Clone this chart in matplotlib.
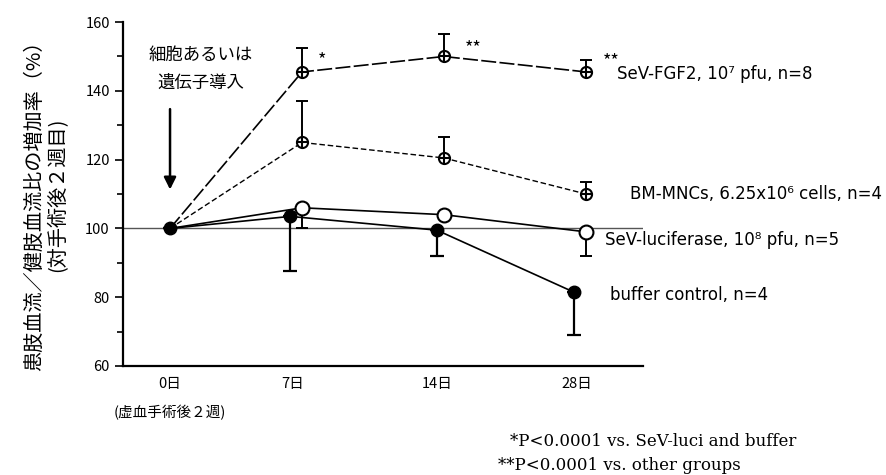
import numpy as np
import matplotlib.pyplot as plt
from matplotlib.ticker import MultipleLocator

plt.rcParams['font.family'] = ['Noto Sans CJK JP', 'DejaVu Sans']

# data
days = ['0日', '7日', '14日', '28日']
fgf2 = [100, 145.5, 150, 145.5]
fgf2_err = [0, 7, 6.5, 3.5]
bm = [100, 125, 120.5, 110]
bm_err = [0, 12, 6, 3.5]
luci = [100, 106, 104, 99]
luci_err = [0, 6, 0, 7]
buf = [100, 103.5, 99.5, 81.5]
buf_err = [0, 16, 7.5, 12.5]

labels = ['SeV-FGF2, 10⁷ pfu, n=8', 'BM-MNCs, 6.25x10⁶ cells, n=4',
          'SeV-luciferase, 10⁸ pfu, n=5', 'buffer control, n=4']

# layout
xt = np.array([0, 0.89, 1.93, 2.94])
x_open = np.array([0, 0.955, 1.98, 3.01])
x_dot = np.array([0, 0.87, 1.93, 2.92])

fig = plt.figure(figsize=(8.87, 4.75), dpi=100)
ax = fig.add_axes([0.1387, 0.2295, 0.586, 0.724])

ax.axhline(100, color='#555555', lw=1, zorder=1)

zero = [0, 0, 0, 0]
# SeV-FGF2
ax.errorbar(x_open, fgf2, yerr=[zero, fgf2_err], fmt='none', ecolor='black',
            elinewidth=1.4, capsize=4, capthick=1.4, zorder=2)
ax.plot(x_open, fgf2, color='black', lw=1.2, dashes=(9, 2), zorder=3)
ax.plot(x_open[1:], fgf2[1:], 'o', ms=8, mfc='white', mec='black', mew=1.5, zorder=4)
ax.plot(x_open[1:], fgf2[1:], '+', ms=8, mec='black', mew=1.5, zorder=5)
# BM-MNCs
ax.errorbar(x_open, bm, yerr=[zero, bm_err], fmt='none', ecolor='black',
            elinewidth=1.4, capsize=4, capthick=1.4, zorder=2)
ax.plot(x_open, bm, color='black', lw=1.0, dashes=(4, 2), zorder=3)
ax.plot(x_open[1:], bm[1:], 'o', ms=8, mfc='white', mec='black', mew=1.5, zorder=4)
ax.plot(x_open[1:], bm[1:], '+', ms=8, mec='black', mew=1.5, zorder=5)
# SeV-luciferase
ax.errorbar(x_open, luci, yerr=[luci_err, zero], fmt='none', ecolor='black',
            elinewidth=1.4, capsize=4, capthick=1.4, zorder=2)
ax.plot(x_open, luci, color='black', lw=1.2, zorder=3)
ax.plot(x_open[1:], luci[1:], 'o', ms=10, mfc='white', mec='black', mew=1.5, zorder=4)
# buffer
ax.errorbar(x_dot, buf, yerr=[buf_err, zero], fmt='none', ecolor='black',
            elinewidth=1.6, capsize=5, capthick=1.6, zorder=2)
ax.plot(x_dot, buf, color='black', lw=1.2, marker='o', ms=9, mfc='black',
        mec='black', zorder=6)

ax.set_xlim(-0.34, 3.42)
ax.set_ylim(60, 160)
ax.set_xticks(xt)
ax.set_xticklabels(days, fontsize=10.5)
ax.tick_params(axis='x', length=0, pad=8)
ax.yaxis.set_major_locator(MultipleLocator(20))
ax.yaxis.set_minor_locator(MultipleLocator(10))
ax.tick_params(axis='y', which='major', length=6, width=1.2, labelsize=10.5)
ax.tick_params(axis='y', which='minor', length=4, width=1.2)
for s in ['top', 'right']:
    ax.spines[s].set_visible(False)
ax.spines['left'].set_linewidth(1.6)
ax.spines['bottom'].set_linewidth(1.6)

ax.text(0, -0.135, '(虚血手術後２週)', transform=ax.get_xaxis_transform(),
        ha='center', va='center', fontsize=10.5)

# annotations
ax.text(0.22, 146.5, '細胞あるいは\n遺伝子導入', ha='center', va='center',
        fontsize=12.5, linespacing=1.7)
ax.annotate('', xy=(0, 110.5), xytext=(0, 135.5),
            arrowprops=dict(arrowstyle='-|>', color='black', lw=1.8, mutation_scale=18))
ax.text(1.10, 149, '*', fontsize=13, ha='center', va='center')
ax.text(2.19, 152.5, '**', fontsize=13, ha='center', va='center')
ax.text(3.19, 148.5, '**', fontsize=13, ha='center', va='center')

label_pos = [(3.23, 145), (3.33, 110), (3.15, 96.5), (3.18, 80.5)]
for (lx, ly), lab in zip(label_pos, labels):
    ax.text(lx, ly, lab, ha='left', va='center', fontsize=12,
            family=['DejaVu Sans'], clip_on=False)

fig.text(35 / 887, 1 - 201 / 475, '患肢血流／健肢血流比の増加率（%）', rotation=90,
         ha='center', va='center', fontsize=14.5)
fig.text(58 / 887, 1 - 195 / 475, '(対手術後２週目)', rotation=90,
         ha='center', va='center', fontsize=14.5)

fig.text(510 / 887, 1 - 441 / 475, '*P<0.0001 vs. SeV-luci and buffer',
         ha='left', va='center', fontsize=12, family=['DejaVu Serif'])
fig.text(498 / 887, 1 - 465 / 475, '**P<0.0001 vs. other groups',
         ha='left', va='center', fontsize=12, family=['DejaVu Serif'])

fig.savefig('out.png', dpi=100)
